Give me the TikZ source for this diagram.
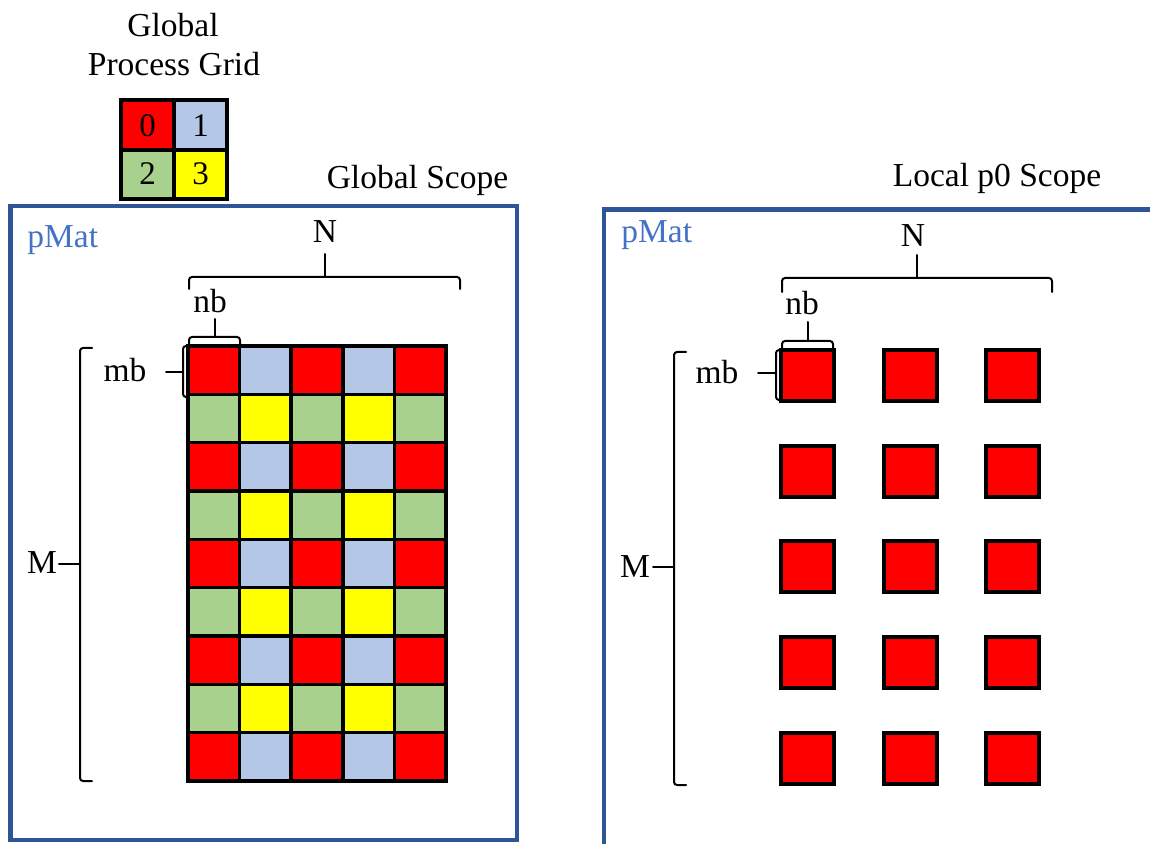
\documentclass[tikz,border=0pt]{standalone}
\usepackage{fontspec}
\setmainfont{Liberation Serif}
\definecolor{cell00}{HTML}{FF0000}
\definecolor{cell01}{HTML}{B4C7E7}
\definecolor{cell10}{HTML}{A9D18E}
\definecolor{cell11}{HTML}{FFFF00}
\definecolor{framecol}{HTML}{2F5597}
\definecolor{matcol}{HTML}{4472C4}
\begin{document}
\begin{tikzpicture}[x=0.5pt,y=-0.5pt,
  lbl/.style={inner sep=0pt,anchor=base,font=\fontsize{16.75}{20}\selectfont},
  digit/.style={inner sep=0pt,anchor=base,font=\fontsize{16.5}{20}\selectfont},
  matname/.style={lbl,anchor=base west,text=matcol},
  scopebox/.style={draw=framecol,line width=2.3pt},
  cellline/.style={draw=black,line width=1.8pt},
  bracket/.style={draw=black,line width=1pt,rounded corners=1.5pt,line cap=round}]
\useasboundingbox (0,0) rectangle (1150,844);
\clip (0,0) rectangle (1150,844);

% process grid legend
\node[lbl] (tGlobal) at (173,37) {Global};
\node[lbl] (tProc) at (174,76) {Process Grid};
\fill[cell00] (121,100) rectangle (174,150);
\fill[cell01] (174,100) rectangle (227,150);
\fill[cell10] (121,150) rectangle (174,199);
\fill[cell11] (174,150) rectangle (227,199);
\draw[cellline,line width=2pt] (121,100) rectangle (227,199)
  (174,100) -- (174,199) (121,150) -- (227,150);
\node[digit] (p0) at (147.5,137) {0};
\node[digit] (p1) at (200.5,137) {1};
\node[digit] (p2) at (147.5,185) {2};
\node[digit] (p3) at (200.5,185) {3};

% scope titles and frames
\node[lbl] (tGS) at (417.5,189) {Global Scope};
\node[lbl] (tLS) at (997,187) {Local p0 Scope};
\draw[scopebox] (10.5,206) rectangle (517,840);
\draw[scopebox] (604,209.5) rectangle (1200,900);
\node[matname] (matL) at (27,248) {pMat};
\node[matname] (matR) at (621,243) {pMat};

% global block-cyclic matrix
\foreach \r in {0,...,8}{
  \pgfmathtruncatemacro\rp{mod(\r,2)}
  \foreach \c in {0,...,4}{
    \pgfmathtruncatemacro\cp{mod(\c,2)}
    \fill[cell\rp\cp] ({188+\c*51.6},{346+\r*48.33}) rectangle ++(51.6,48.33);
  }
}
\foreach \c in {0,...,5} \draw[cellline] ({188+\c*51.6},346) -- ({188+\c*51.6},781);
\foreach \r in {0,...,9} \draw[cellline,line cap=rect] (188,{346+\r*48.33}) -- (446,{346+\r*48.33});

% local blocks owned by p0
\foreach \r/\yy in {0/350,1/446,2/541,3/637,4/733}
  \foreach \c/\xx in {0/781,1/884,2/986}
    \draw[cellline,fill=cell00] (\xx,\yy) rectangle ++(53,51);

% dimension brackets, global side
\node[lbl] (NL) at (325,243) {N};
\draw[bracket] (189,289) -- (189,277) -- (460,277) -- (460,289);
\draw[bracket] (325,277) -- (325,254);
\node[lbl] (nbL) at (210,313) {nb};
\draw[bracket] (189,345) -- (189,337) -- (240,337) -- (240,345);
\draw[bracket] (215,337) -- (215,319);
\node[lbl] (mbL) at (125,381) {mb};
\draw[bracket] (188,346) -- (183,346) -- (183,397) -- (188,397);
\draw[bracket] (183,372) -- (166,372);
\node[lbl] (ML) at (42,573) {M};
\draw[bracket] (92,348) -- (80,348) -- (80,781) -- (92,781);
\draw[bracket] (80,564) -- (59,564);

% dimension brackets, local side
\node[lbl] (NR) at (913,247) {N};
\draw[bracket] (782,292) -- (782,278) -- (1052,278) -- (1052,292);
\draw[bracket] (917,278) -- (917,255);
\node[lbl] (nbR) at (802,315) {nb};
\draw[bracket] (782,349) -- (782,341) -- (833,341) -- (833,349);
\draw[bracket] (808,341) -- (808,322);
\node[lbl] (mbR) at (717,383) {mb};
\draw[bracket] (781,350) -- (776,350) -- (776,400) -- (781,400);
\draw[bracket] (776,373) -- (758,373);
\node[lbl] (MR) at (635,577) {M};
\draw[bracket] (686,352) -- (674,352) -- (674,785) -- (686,785);
\draw[bracket] (674,567) -- (653,567);
\end{tikzpicture}
\end{document}
